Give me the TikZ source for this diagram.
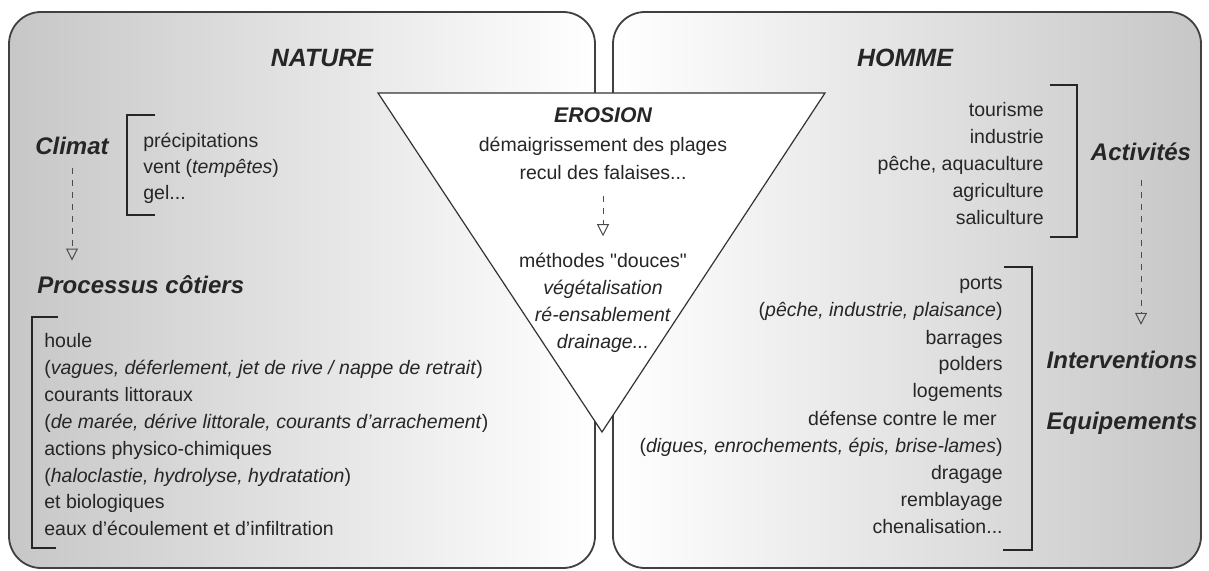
\documentclass[tikz,border=0pt]{standalone}
\usepackage{fontspec}
\setmainfont{Liberation Sans}
\usetikzlibrary{arrows.meta}
\newcommand{\suite}{...}

\begin{document}
\begin{tikzpicture}[
  x=0.5pt, y=-0.5pt,
  every node/.style={text=black!85, inner sep=2pt},
  panel/.style={draw=black!75, line width=0.9pt, rounded corners=16pt},
  funnel/.style={draw=black!80, line width=0.6pt, fill=white},
  brace/.style={draw=black!85, line width=0.9pt},
  title/.style={font=\fontsize{12.5}{15}\selectfont\bfseries\itshape},
  head/.style={font=\fontsize{12}{14}\selectfont\bfseries\itshape},
  item/.style={font=\fontsize{9.75}{12}\selectfont},
  flow/.style={draw=black!70, dashed, line width=0.5pt, -{Triangle[open, length=6pt, width=6pt]}}
]
\useasboundingbox (0,0) rectangle (1209,571);

% the two panels, shaded towards the outer edges
\draw[panel, left color=black!22, right color=white] (9,12) rectangle (595,568);
\draw[panel, left color=white, right color=black!22] (613,12) rectangle (1201,568);

% central funnel on top of both panels
\draw[funnel] (378,93) -- (825,93) -- (602,432) -- cycle;

\node[title] (nat) at (322,58) {NATURE};
\node[title] (hom) at (905,58) {HOMME};

% nature side
\node[head] (cli) at (72,146) {Climat};
\draw[brace] (155,115) -- (127,115) -- (127,215) -- (155,215);
\foreach \txt [count=\i from 0] in {précipitations, vent (\textit{tempêtes}), gel\suite}
  \node[item, anchor=base west] (cl\i) at (139, 148+26*\i) {\txt};

\node[head, anchor=west] (pro) at (33,285) {Processus côtiers};
\draw[flow, shorten <=4.5pt, shorten >=5.5pt] (cli.south) -- (cli.south |- pro.north);

\draw[brace] (58,317) -- (32,317) -- (32,548) -- (56,548);
\foreach \txt [count=\i from 0] in {houle,
    {(\textit{vagues, déferlement, jet de rive / nappe de retrait})},
    courants littoraux,
    {(\textit{de marée, dérive littorale, courants d'arrachement})},
    actions physico-chimiques,
    {(\textit{haloclastie, hydrolyse, hydratation})},
    et biologiques,
    eaux d'écoulement et d'infiltration}
  \node[item, anchor=base west] (pc\i) at (40, 348+26.8*\i) {\txt};

% erosion
\node[font=\fontsize{10.6}{13}\selectfont\bfseries\itshape] (ero) at (603,115) {EROSION};
\node[item, anchor=base] (er1) at (603,152) {démaigrissement des plages};
\node[item, anchor=base] (er2) at (603,180) {recul des falaises...};
\foreach \txt [count=\i from 0] in {méthodes \textquotedbl douces\textquotedbl, \textit{végétalisation}, \textit{ré-ensablement}, \textit{drainage\suite}}
  \node[item, anchor=base] (sm\i) at (603, 268+27*\i) {\txt};
\draw[flow, shorten <=5.5pt, shorten >=6.5pt] (er2.south) -- (sm0.north);

% homme side
\draw[brace] (1050,85) -- (1077,85) -- (1077,237) -- (1050,237);
\foreach \txt [count=\i from 0] in {tourisme, industrie, {pêche, aquaculture}, agriculture, saliculture}
  \node[item, anchor=base east] (ac\i) at (1048, 117+27*\i) {\txt};

\node[head] (act) at (1141,152) {Activités};
\node[head] (int) at (1122,360) {Interventions};
\node[head] (equ) at (1122,423) {Equipements};
\draw[flow, shorten <=7.5pt, shorten >=11pt] (act.south) -- (act.south |- int.north);

\draw[brace] (1004,267) -- (1032,267) -- (1032,550) -- (1003,550);
\foreach \txt [count=\i from 0] in {ports,
    {(\textit{pêche, industrie, plaisance})},
    barrages, polders, logements,
    défense contre le mer\kern0.3em,
    {(\textit{digues, enrochements, épis, brise-lames})},
    dragage, remblayage, chenalisation\suite}
  \node[item, anchor=base east] (iv\i) at (1007, 290+27*\i) {\txt};

\end{tikzpicture}
\end{document}
